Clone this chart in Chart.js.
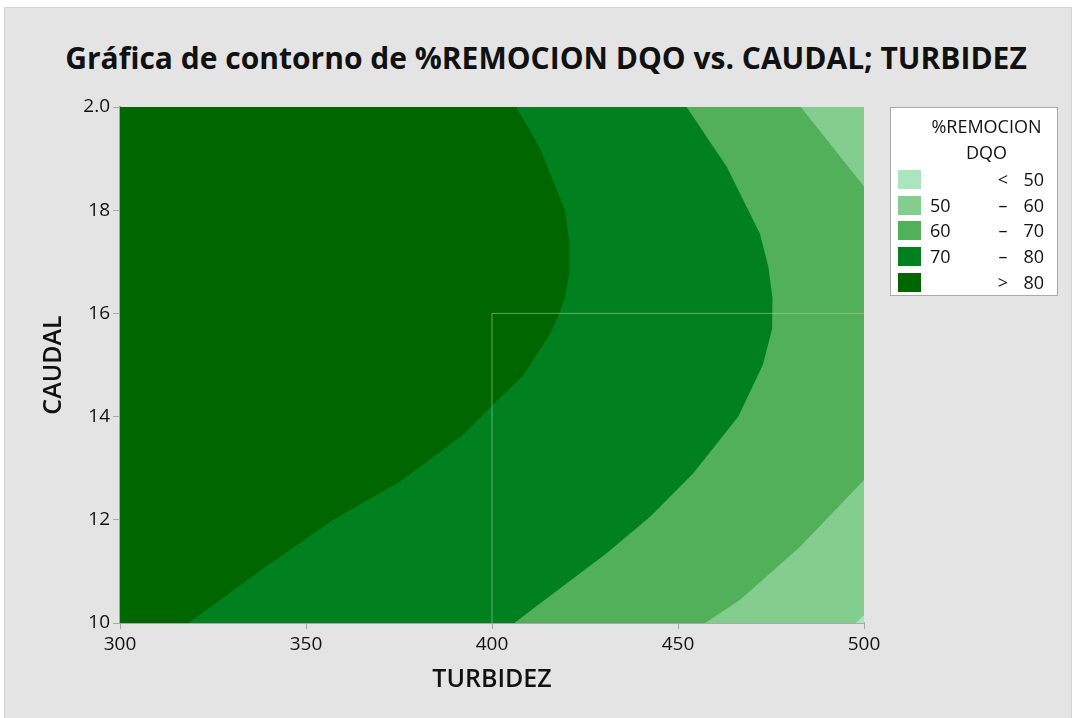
<!DOCTYPE html>
<html>
<head>
<meta charset="utf-8">
<script src="https://cdn.jsdelivr.net/npm/chart.js@4.4.0/dist/chart.umd.min.js"></script>
<style>
    body { margin: 0; background: #fff; font-family: "Open Sans", "Noto Sans", sans-serif; }
    #panel { position: absolute; left: 4px; top: 7px; width: 1068px; height: 712px; background: #e4e4e4; border: 1px solid #d4d4d4; box-sizing: border-box; }
    #wrap { position: absolute; left: 0; top: 0; width: 1075px; height: 718px; }
    #title { position: absolute; left: 0; top: 40px; width: 1092px; text-align: center; font-size: 30px; line-height: 36px; font-weight: bold; color: #111; white-space: nowrap; }
    #legend { position: absolute; left: 890px; top: 107px; width: 168px; height: 189px; background: #fff; border: 1px solid #a9a9a9; box-sizing: border-box; color: #111; font-size: 18px; }
    #legend .ttl { position: absolute; left: 0; width: 191px; text-align: center; line-height: 22px; }
    #legend .row { position: absolute; left: 0; width: 168px; height: 19px; line-height: 19px; }
    #legend .sw { position: absolute; left: 7px; top: 0; width: 23px; height: 19px; }
    #legend .lo { position: absolute; left: 39px; }
    #legend .mid { position: absolute; left: 104px; width: 16px; text-align: center; }
    #legend .hi { position: absolute; right: 15px; }
</style>
</head>
<body>
<div id="panel"></div>
<div id="title">Gráfica de contorno de %REMOCION DQO vs. CAUDAL; TURBIDEZ</div>
<div id="wrap"><canvas id="contourChart" width="1075" height="718"></canvas></div>
<div id="legend"></div>
<script>
// --- Data ---
const turbidezRange = [300, 500];
const caudalRange = [10, 20];
const caudalTickLabels = { 10: '10', 12: '12', 14: '14', 16: '16', 18: '18', 20: '2.0' };

const levelNames = ['< 50', '50 – 60', '60 – 70', '70 – 80', '> 80'];
const levelLow = ['', '50', '60', '70', ''];
const levelMid = ['<', '–', '–', '–', '>'];
const levelHigh = ['50', '60', '70', '80', '80'];
const levelColors = ['#abe5bf', '#83cd8f', '#52af5a', '#00801f', '#006600'];

// contour lines as [TURBIDEZ, CAUDAL]
const contour80 = [[406.5, 20], [412.9, 19.2], [419.6, 18.0], [420.8, 17.4], [420.8, 16.8], [419.6, 16.3],
    [418.1, 16.0], [415.6, 15.6], [408.4, 14.8], [399.9, 14.2], [391.4, 13.6], [375.3, 12.74],
    [357.3, 12.0], [339.4, 11.1], [318.4, 10]];
const contour70 = [[452.3, 20], [463.1, 18.84], [472.0, 17.55], [474.3, 16.9], [475.4, 16.3], [475.3, 15.7],
    [472.8, 15.0], [466.2, 14.0], [454.1, 12.9], [442.5, 12.06], [430.8, 11.35], [412.9, 10.38], [406.0, 10]];
const contour60Top = [[483.0, 20], [500, 18.46]];
const contour60Bottom = [[457.3, 10], [466.7, 10.45], [482.8, 11.48], [500, 12.77]];
const contour50 = [[497.7, 10], [500, 10.15]];
const guideLine = [[400, 10], [400, 16], [500, 16]];

// --- Build region polygons (contour + plot corners) ---
const [xMin, xMax] = turbidezRange;
const [yMin, yMax] = caudalRange;
const toPts = arr => arr.map(p => ({ x: p[0], y: p[1] }));

function region(points, color, order) {
    return {
        data: toPts(points),
        showLine: true,
        fill: 'shape',
        backgroundColor: color,
        borderColor: color,
        borderWidth: 0,
        pointRadius: 0,
        tension: 0,
        order: order
    };
}

const datasets = [
    region([[xMin, yMin], [xMin, yMax], [xMax, yMax], [xMax, yMin]], levelColors[4], 10),
    region([...contour80, [xMax, yMin], [xMax, yMax]], levelColors[3], 9),
    region([...contour70, [xMax, yMin], [xMax, yMax]], levelColors[2], 8),
    region([...contour60Top, [xMax, yMax]], levelColors[1], 7),
    region([...contour60Bottom, [xMax, yMin]], levelColors[1], 7),
    region([...contour50, [xMax, yMin]], levelColors[0], 6),
    {
        data: toPts(guideLine),
        showLine: true,
        fill: false,
        borderColor: 'rgba(170, 215, 170, 0.55)',
        borderWidth: 1,
        pointRadius: 0,
        order: 1
    }
];

const fontFamily = '"Open Sans", "Noto Sans", sans-serif';
const tickFont = { family: fontFamily, size: 19 };
const titleFont = { family: fontFamily, size: 25, weight: '600' };

new Chart(document.getElementById('contourChart'), {
    type: 'scatter',
    data: { datasets },
    options: {
        responsive: false,
        animation: false,
        devicePixelRatio: 1,
        layout: { padding: { left: 0, right: 211, top: 107, bottom: 0 } },
        plugins: {
            legend: { display: false },
            tooltip: { enabled: false }
        },
        scales: {
            x: {
                type: 'linear',
                min: xMin,
                max: xMax,
                ticks: { stepSize: 50, color: '#111', font: tickFont, padding: 4 },
                grid: { drawOnChartArea: false, tickLength: 6, color: '#a8a8a8' },
                border: { color: '#a8a8a8', width: 2 },
                title: { display: true, text: 'TURBIDEZ', color: '#111', font: titleFont, padding: { bottom: 23 } },
                afterFit: scale => { scale.height = 95; }
            },
            y: {
                type: 'linear',
                min: yMin,
                max: yMax,
                ticks: {
                    stepSize: 2,
                    color: '#111',
                    font: tickFont,
                    padding: 3,
                    callback: v => caudalTickLabels[v] ?? v
                },
                grid: { drawOnChartArea: false, tickLength: 7, color: '#a8a8a8' },
                border: { color: '#a8a8a8', width: 2 },
                title: { display: true, text: 'CAUDAL', color: '#111', font: titleFont, padding: { top: 39 } },
                afterFit: scale => { scale.width = 120; }
            }
        }
    }
});

// --- Legend (HTML) ---
const legend = document.getElementById('legend');
legend.innerHTML = '<div class="ttl" style="top:7px">%REMOCION</div><div class="ttl" style="top:33px">DQO</div>';
levelNames.forEach((name, i) => {
    const row = document.createElement('div');
    row.className = 'row';
    row.title = name;
    row.style.top = (62 + i * 25.7) + 'px';
    row.innerHTML = `<span class="sw" style="background:${levelColors[i]}"></span>` +
        `<span class="lo">${levelLow[i]}</span><span class="mid">${levelMid[i]}</span><span class="hi">${levelHigh[i]}</span>`;
    legend.appendChild(row);
});
</script>
</body>
</html>
